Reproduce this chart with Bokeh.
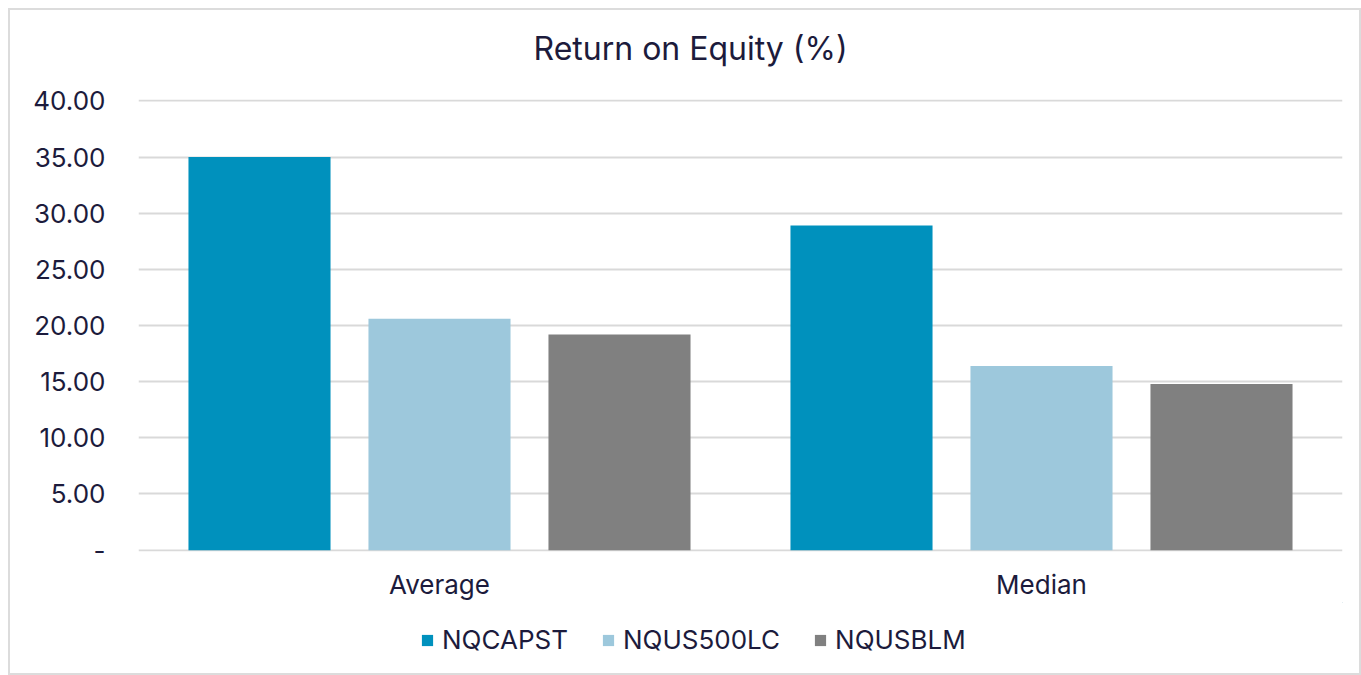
from bokeh.plotting import figure
from bokeh.layouts import column
from bokeh.models import (FactorRange, Legend, LegendItem, FixedTicker, NumeralTickFormatter,
                          ColumnDataSource, Label)
from bokeh.transform import dodge
from bokeh.embed import file_html
from bokeh.resources import INLINE

title_text = "Return on Equity (%)"
categories = ["Average", "Median"]
series_names = ["NQCAPST", "NQUS500LC", "NQUSBLM"]
nqcapst = [35.0, 28.9]
nqus500lc = [20.6, 16.4]
nqusblm = [19.2, 14.8]
y_ticks = [0, 5, 10, 15, 20, 25, 30, 35, 40]

colors = ["#0091BD", "#9DC8DC", "#808080"]
offsets = [-0.299, 0.0, 0.299]
TEXT = "#1c1b3c"
FONT = "Inter"
W = 1349


def strip(h):
    f = figure(width=W, height=h, x_range=(0, 1), y_range=(0, 1), output_backend="svg",
               toolbar_location=None, x_axis_location=None, y_axis_location=None,
               min_border=0, min_border_left=0, min_border_right=0,
               min_border_top=0, min_border_bottom=0)
    f.xgrid.grid_line_color = None
    f.ygrid.grid_line_color = None
    f.outline_line_color = None
    return f


# title strip
p0 = strip(69)
p0.add_layout(Label(x=0.4585, y=0.449, text=title_text, text_align="center", text_baseline="middle",
                    text_font=FONT, text_font_size="32px", text_color=TEXT))

src = ColumnDataSource(dict(cat=categories, s0=nqcapst, s1=nqus500lc, s2=nqusblm))

p = figure(width=W, height=523, x_range=FactorRange(*categories, range_padding=0),
           y_range=(-0.12, 40.12), output_backend="svg", toolbar_location=None,
           min_border_left=128, min_border_right=17, min_border_top=20, min_border_bottom=51)

for i, col in enumerate(["s0", "s1", "s2"]):
    p.vbar(x=dodge("cat", offsets[i], range=p.x_range), top=col, width=0.236,
           source=src, fill_color=colors[i], line_color=None)

p.xgrid.grid_line_color = None
p.ygrid.grid_line_color = "#d9d9d9"
p.ygrid.grid_line_width = 2
p.outline_line_color = None

p.yaxis.ticker = FixedTicker(ticks=y_ticks)
p.yaxis.formatter = NumeralTickFormatter(format="0.00")
p.yaxis.major_label_overrides = {0: "-"}
p.yaxis.axis_line_color = None
p.yaxis.major_tick_line_color = None
p.yaxis.minor_tick_line_color = None
p.yaxis.major_label_standoff = 27
p.yaxis.major_label_text_font = FONT
p.yaxis.major_label_text_font_size = "26px"
p.yaxis.major_label_text_color = TEXT

p.xaxis.axis_line_color = None
p.xaxis.major_tick_line_color = None
p.xaxis.major_label_standoff = 11
p.xaxis.major_label_text_font = FONT
p.xaxis.major_label_text_font_size = "26px"
p.xaxis.major_label_text_color = TEXT

# legend strip below the chart
p2 = strip(71)
leg_renderers = []
for i in range(3):
    r = p2.vbar(x=[5], top=[5], bottom=[4], width=0.1, fill_color=colors[i], line_color=None)
    leg_renderers.append(r)

legend = Legend(items=[LegendItem(label=n, renderers=[r]) for n, r in zip(series_names, leg_renderers)],
                orientation="horizontal", location=(282, 18))
legend.label_text_font = FONT
legend.label_text_font_size = "26px"
legend.label_text_color = TEXT
legend.glyph_width = 14
legend.glyph_height = 14
legend.label_standoff = 8
legend.spacing = 33
legend.padding = 0
legend.margin = 0
legend.border_line_color = None
legend.background_fill_alpha = 0
p2.add_layout(legend, "center")

layout = column(p0, p, p2, spacing=0, styles={"margin": "8px 0 0 8px", "border": "2px solid #dcdcdc"})

open("out.html", "w").write(file_html(layout, INLINE))
